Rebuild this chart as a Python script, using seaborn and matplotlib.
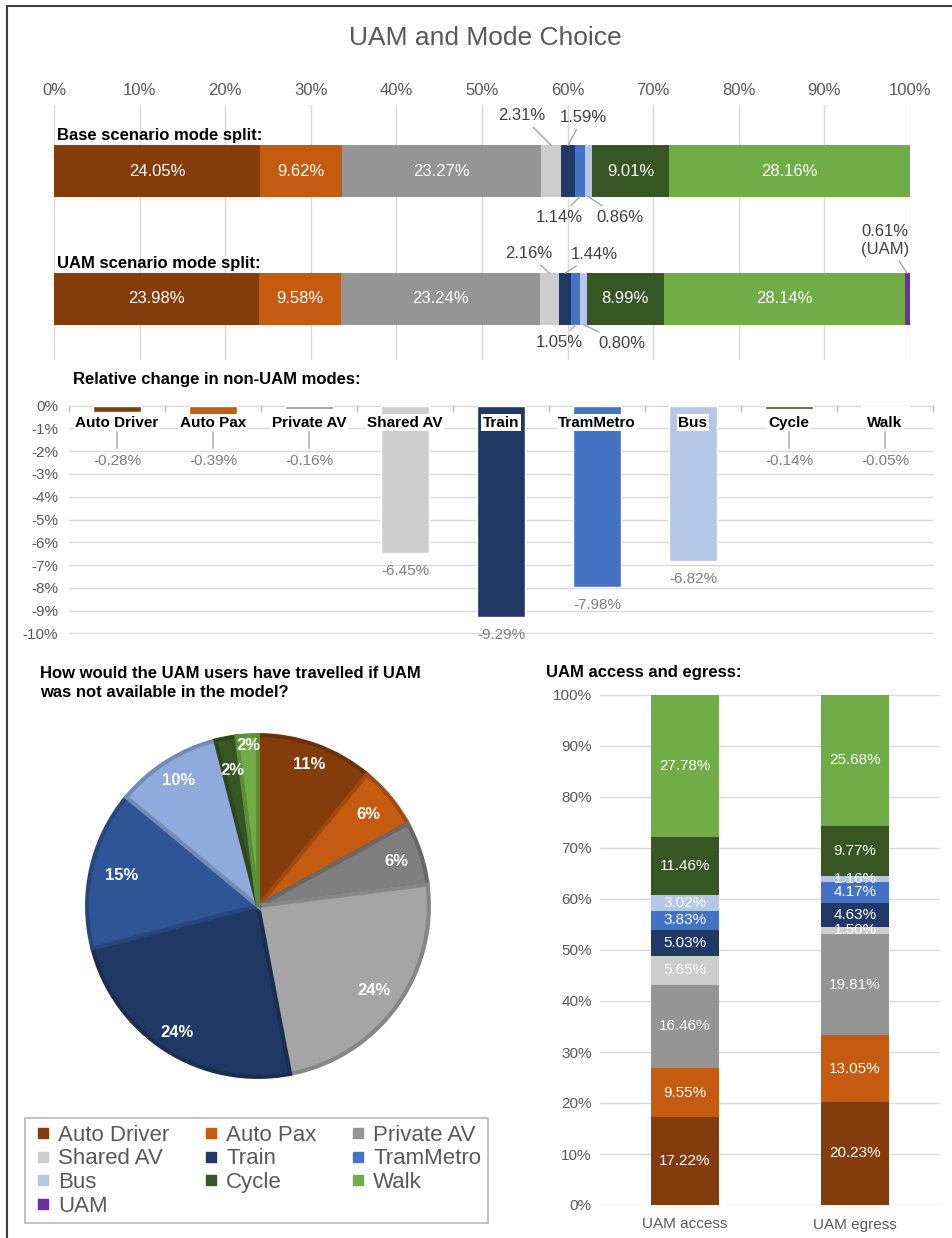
import numpy as np
import pandas as pd
import matplotlib
matplotlib.use("Agg")
import matplotlib.pyplot as plt
from matplotlib.colors import to_rgb
from matplotlib.lines import Line2D
from matplotlib.patches import Rectangle
import seaborn as sns

sns.set_theme(style="white", context="notebook")
plt.rcParams["font.family"] = ["Liberation Sans", "DejaVu Sans"]

# ---- data ----
modes = ["Auto Driver", "Auto Pax", "Private AV", "Shared AV", "Train",
         "TramMetro", "Bus", "Cycle", "Walk"]
all_modes = modes + ["UAM"]
scenario_labels = ["Base scenario mode split:", "UAM scenario mode split:"]
base_split = [24.05, 9.62, 23.27, 2.31, 1.59, 1.14, 0.86, 9.01, 28.16]
uam_split = [23.98, 9.58, 23.24, 2.16, 1.44, 1.05, 0.80, 8.99, 28.14, 0.61]
rel_change = [-0.28, -0.39, -0.16, -6.45, -9.29, -7.98, -6.82, -0.14, -0.05]
pie_share = [11, 6, 6, 24, 24, 15, 10, 2, 2]
trip_ends = ["UAM access", "UAM egress"]
access = [17.22, 9.55, 16.46, 5.65, 5.03, 3.83, 3.02, 11.46, 27.78]
egress = [20.23, 13.05, 19.81, 1.50, 4.63, 4.17, 1.16, 9.77, 25.68]
pct_ticks = list(range(0, 101, 10))
change_ticks = list(range(0, -11, -1))

# ---- styling ----
colors = {"Auto Driver": "#843C0C", "Auto Pax": "#C55A11", "Private AV": "#959595",
          "Shared AV": "#CDCDCD", "Train": "#203864", "TramMetro": "#4472C4",
          "Bus": "#B4C7E7", "Cycle": "#375623", "Walk": "#70AD47", "UAM": "#7030A0"}
pie_colors = ["#843C0C", "#C55A11", "#7F7F7F", "#A5A5A5", "#203864",
              "#2F5597", "#8FAADC", "#375623", "#70AD47"]
pie_label_r = [0.88, 0.84, 0.85, 0.84, 0.88, 0.82, 0.87, 0.81, 0.94]
# callout offsets (pixels) for thin segments of the top bars
callouts = {(0, "Shared AV"): (-30, 30), (0, "Train"): (15, 28),
            (0, "TramMetro"): (-20, -21), (0, "Bus"): (32, -21),
            (1, "Shared AV"): (-21, 20), (1, "Train"): (29, 19),
            (1, "TramMetro"): (-16, -18), (1, "Bus"): (39, -19),
            (1, "UAM"): (-22, 33)}
TICK = "#595959"
GRID = "#D9D9D9"
LEAD = "#A6A6A6"

W, H = 953, 1238


def box(l, t, r, b):
    return [l / W, 1 - b / H, (r - l) / W, (b - t) / H]


fig = plt.figure(figsize=(W / 100, H / 100), dpi=100)
fig.patches.append(Rectangle((7 / W, -0.01), 1.02, 1.01 - 6 / H, transform=fig.transFigure,
                             fill=False, edgecolor="#404040", linewidth=1.5))
fig.text(485 / W, 1 - 38 / H, "UAM and Mode Choice", ha="center", va="center",
         fontsize=19, color=TICK)

# ---- top: stacked mode split bars ----
ax1 = fig.add_axes(box(54, 105, 910, 360))
for row, vals in enumerate([base_split, uam_split]):
    left = 0.0
    for m, v in zip(all_modes, vals):
        ax1.barh(row, v, left=left, height=0.4, color=colors[m], linewidth=0)
        mid = left + v / 2
        txt = f"{v:.2f}%"
        if v >= 5:
            ax1.text(mid, row, txt, ha="center", va="center", color="white", fontsize=12)
        else:
            dx, dy = callouts[(row, m)]
            if m == "UAM":
                txt = f"{v:.2f}%\n(UAM)"
            edge = row - 0.2 if dy > 0 else row + 0.2
            ax1.annotate(txt, xy=(mid, edge), xytext=(dx, dy), textcoords="offset pixels",
                         ha="center", va="center", fontsize=12, color="#404040",
                         linespacing=1.25,
                         arrowprops=dict(arrowstyle="-", color=LEAD, lw=1,
                                         shrinkA=1, shrinkB=0))
        left += v
    ax1.text(0.35, row - 0.22, scenario_labels[row], ha="left", va="bottom",
             fontsize=12, fontweight="bold", color="black")
ax1.set_xlim(0, 100)
ax1.set_ylim(1.477, -0.516)
ax1.xaxis.tick_top()
ax1.set_xticks(pct_ticks, labels=[f"{t}%" for t in pct_ticks])
ax1.set_yticks([])
ax1.tick_params(axis="x", length=0, pad=5, labelsize=12, labelcolor=TICK)
ax1.grid(axis="x", color=GRID, linewidth=1)
ax1.set_axisbelow(True)
sns.despine(ax=ax1, left=True, bottom=True)

# ---- middle: relative change ----
fig.text(73 / W, 1 - 380 / H, "Relative change in non-UAM modes:", ha="left", va="center",
         fontsize=12, fontweight="bold", color="black")
ax2 = fig.add_axes(box(69, 405, 933, 634))
df_change = pd.DataFrame({"mode": modes, "change": rel_change})
sns.barplot(data=df_change, x="mode", y="change", hue="mode",
            palette=[colors[m] for m in modes], width=0.5, saturation=1,
            legend=False, ax=ax2)
ax2.set_ylim(-10.03, 0.03)
ax2.set_xlim(-0.5, len(modes) - 0.5)
ax2.set_xlabel("")
ax2.set_ylabel("")
ax2.set_yticks(change_ticks, labels=[f"{t}%" for t in change_ticks])
ax2.tick_params(axis="y", length=0, pad=8, labelsize=11, labelcolor=TICK)
ax2.xaxis.set_ticks_position("top")
ax2.set_xticks(np.arange(-0.5, len(modes), 1.0), minor=True)
ax2.tick_params(axis="x", which="major", length=0, labeltop=False, labelbottom=False)
ax2.tick_params(axis="x", which="minor", direction="in", length=5, color="#BFBFBF", width=1)
ax2.grid(axis="y", color=GRID, linewidth=1)
ax2.set_axisbelow(True)
sns.despine(ax=ax2, left=True, bottom=True, top=True)
for i, (m, v) in enumerate(zip(modes, rel_change)):
    ax2.text(i, -0.75, m, ha="center", va="center", fontsize=11, fontweight="bold",
             color="black", bbox=dict(facecolor="white", edgecolor="none", pad=1))
    if v > -1:
        ax2.annotate(f"{v:.2f}%", xy=(i, -1.15), xytext=(i, -2.45), ha="center", va="center",
                     fontsize=11, color="#7F7F7F",
                     arrowprops=dict(arrowstyle="-", color=LEAD, lw=1, shrinkA=2, shrinkB=0))
    else:
        ax2.annotate(f"{v:.2f}%", xy=(i, v), xytext=(0, -18), textcoords="offset pixels",
                     ha="center", va="center", fontsize=11, color="#7F7F7F")

# ---- bottom left: pie ----
fig.text(40 / W, 1 - 666 / H,
         "How would the UAM users have travelled if UAM\nwas not available in the model?",
         ha="left", va="top", fontsize=12, fontweight="bold", color="black", linespacing=1.35)
ax3 = fig.add_axes(box(258 - 176, 906 - 176, 258 + 176, 906 + 176))
wedges, _ = ax3.pie(pie_share, colors=pie_colors, startangle=90, counterclock=False,
                    wedgeprops=dict(linewidth=3))
for w, c, p, r in zip(wedges, pie_colors, pie_share, pie_label_r):
    w.set_edgecolor(tuple(np.array(to_rgb(c)) * 0.82))
    ang = np.deg2rad((w.theta1 + w.theta2) / 2)
    ax3.text(r * np.cos(ang), r * np.sin(ang), f"{p}%", ha="center", va="center",
             fontsize=12, fontweight="bold", color="white")
ax3.set_xlim(-1.03, 1.03)
ax3.set_ylim(-1.03, 1.03)

# legend (row-major order as in the original -> reorder for column-major filling)
order = [0, 3, 6, 9, 1, 4, 7, 2, 5, 8]
handles = [Line2D([], [], marker="s", linestyle="none", markersize=7.5,
                  color=colors[all_modes[k]]) for k in order]
labels = [all_modes[k] for k in order]
leg = fig.legend(handles, labels, ncol=3, loc="upper left",
                 bbox_to_anchor=(25 / W, 1 - 1118 / H), borderaxespad=0,
                 frameon=True, fancybox=False, edgecolor="#A6A6A6", fontsize=16,
                 labelcolor=TICK, handlelength=1.0, handletextpad=0.2,
                 columnspacing=1.35, labelspacing=0.12, borderpad=0.3)
leg.get_frame().set_linewidth(1.2)

# ---- bottom right: access / egress ----
fig.text(546 / W, 1 - 673 / H, "UAM access and egress:", ha="left", va="center",
         fontsize=12, fontweight="bold", color="black")
ax4 = fig.add_axes(box(600, 695, 940, 1205))
for j, vals in enumerate([access, egress]):
    bottom = 0.0
    for m, v in zip(modes, vals):
        ax4.bar(j, v, bottom=bottom, width=0.4, color=colors[m], linewidth=0)
        ax4.text(j, bottom + v / 2, f"{v:.2f}%", ha="center", va="center",
                 fontsize=11, color="white")
        bottom += v
ax4.set_xlim(-0.5, 1.5)
ax4.set_ylim(0, 100)
ax4.set_yticks(pct_ticks, labels=[f"{t}%" for t in pct_ticks])
ax4.set_xticks([0, 1], labels=trip_ends)
ax4.tick_params(axis="y", length=0, pad=6, labelsize=11, labelcolor=TICK)
ax4.tick_params(axis="x", length=0, pad=9, labelsize=11, labelcolor=TICK)
ax4.grid(axis="y", color=GRID, linewidth=1)
ax4.set_axisbelow(True)
sns.despine(ax=ax4, left=True, bottom=True)

fig.savefig("out.png", dpi=100)
